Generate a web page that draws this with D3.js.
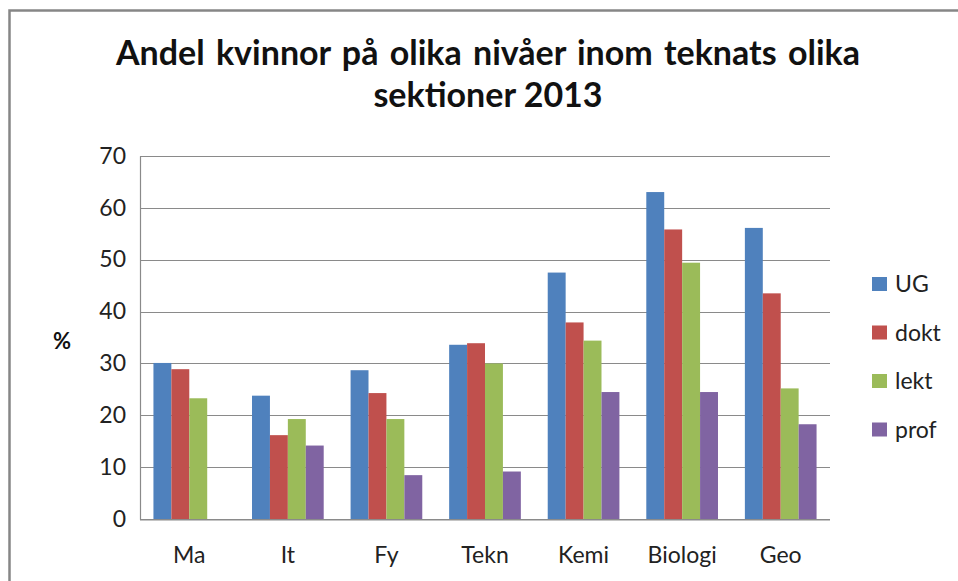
<!DOCTYPE html>
<html><head><meta charset="utf-8">
<script src="https://cdn.jsdelivr.net/npm/d3@7"></script>
<style>body{margin:0;background:#fff}svg{display:block}text{font-family:Lato,"Open Sans",sans-serif}</style>
</head><body><svg id="c" width="958" height="581"></svg>
<script>
const categories = ["Ma","It","Fy","Tekn","Kemi","Biologi","Geo"];
const seriesNames = ["UG","dokt","lekt","prof"];
const UG   = [30.1, 23.8, 28.7, 33.6, 47.5, 63.0, 56.1];
const dokt = [28.9, 16.2, 24.3, 33.9, 37.9, 55.8, 43.5];
const lekt = [23.3, 19.3, 19.3, 30.0, 34.4, 49.4, 25.2];
const prof = [0,    14.2,  8.5,  9.2, 24.5, 24.5, 18.3];
const yTicks = [0,10,20,30,40,50,60,70];
const colors = ["#4F81BD","#C0504D","#9BBB59","#8064A2"];
const titleLines = ["Andel kvinnor på olika nivåer inom teknats olika","sektioner 2013"];
const yLabel = "%";

const values = [UG, dokt, lekt, prof];
const svg = d3.select("#c");
// outer border
svg.append("path").attr("d","M9.5,600 V10.5 H970").attr("fill","none").attr("stroke","#868686").attr("stroke-width",2.5);

const L=140, R=830, T=155.7, B=519.3;
const x = d3.scaleBand().domain(categories).range([L,R]).paddingInner(1.5/5.5).paddingOuter(0.75/5.5);
const xs = d3.scaleBand().domain(seriesNames).range([0,x.bandwidth()]);
const y = d3.scaleLinear().domain([0,70]).range([B,T]);

// gridlines
svg.append("g").selectAll("line").data(yTicks).join("line")
  .attr("x1",L).attr("x2",R).attr("y1",d=>Math.round(y(d))+0.5).attr("y2",d=>Math.round(y(d))+0.5)
  .attr("stroke","#8a8a8a").attr("stroke-width",1.2);

// bars
seriesNames.forEach((s,i)=>{
  svg.append("g").selectAll("rect").data(categories).join("rect")
    .attr("x",(c)=>x(c)+xs(s)).attr("width",xs.bandwidth())
    .attr("y",(c,j)=>y(values[i][j])).attr("height",(c,j)=>B-y(values[i][j]))
    .attr("fill",colors[i]);
});

// axes
const yAxis = svg.append("g").attr("transform",`translate(${L},0)`).call(d3.axisLeft(y).tickValues(yTicks).tickSize(0).tickPadding(14));
yAxis.select(".domain").attr("stroke","#8a8a8a").attr("stroke-width",1.2);
yAxis.selectAll("text").attr("font-size",23).attr("fill","#222").attr("font-family","Lato");
const xAxis = svg.append("g").attr("transform",`translate(0,${B})`).call(d3.axisBottom(x).tickSize(0).tickPadding(27));
xAxis.select(".domain").remove();
xAxis.selectAll("text").attr("font-size",23).attr("fill","#222").attr("font-family","Lato");
svg.append("line").attr("x1",L).attr("x2",R).attr("y1",B+0.5).attr("y2",B+0.5).attr("stroke","#8a8a8a").attr("stroke-width",1.5);

// y label
svg.append("text").attr("x",62).attr("y",349).attr("text-anchor","middle").attr("font-weight","bold").attr("font-size",22).attr("fill","#111").text(yLabel);

// title
svg.append("g").selectAll("text").data(titleLines).join("text")
  .attr("x",488).attr("y",(d,i)=>65+i*42).attr("text-anchor","middle")
  .attr("word-spacing",(d,i)=>i===0?3:0)
  .attr("font-weight","bold").attr("font-size",34).attr("fill","#111").text(d=>d);

// legend
const lg = svg.append("g").selectAll("g").data(seriesNames).join("g")
  .attr("transform",(d,i)=>`translate(872,${277+i*48.5})`);
lg.append("rect").attr("width",15).attr("height",14).attr("fill",(d,i)=>colors[i]);
lg.append("text").attr("x",23).attr("y",15).attr("font-size",23).attr("fill","#222").text(d=>d);
</script></body></html>
